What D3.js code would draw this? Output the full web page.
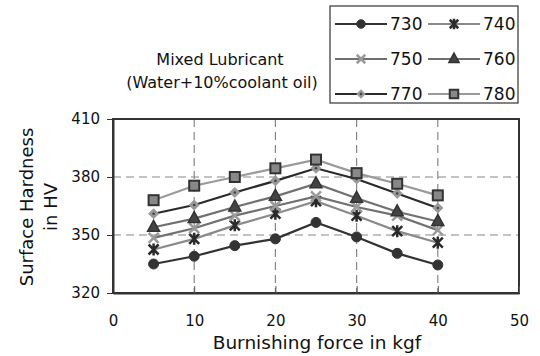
<!DOCTYPE html>
<html>
<head>
<meta charset="utf-8">
<script src="https://cdn.jsdelivr.net/npm/d3@7"></script>
<style>
  body { margin: 0; background: #fff; }
  text { font-family: "DejaVu Sans", Verdana, sans-serif; fill: #111; }
</style>
</head>
<body>
<div id="chart"></div>
<script>
const force = [5, 10, 15, 20, 25, 30, 35, 40]
const s730 = [335, 339, 344.5, 348, 356.5, 349, 340.5, 334.5]
const s740 = [342.5, 348, 355, 361, 367.5, 360, 352, 346]
const s750 = [348.5, 353.5, 360, 365, 370, 364.5, 360, 352.5]
const s760 = [354, 358.5, 364.5, 370, 376.5, 369, 362, 357]
const s770 = [361, 365.5, 372, 378, 384.5, 379, 371.5, 364]
const s780 = [368, 375.5, 380, 384.5, 389, 382, 376.5, 370.5]
const xTicks = [0, 10, 20, 30, 40, 50]
const yTicks = [320, 350, 380, 410]

const series = [
  {name: '730', values: s730, line: '#333', shape: 'circle', fill: '#333', stroke: '#333'},
  {name: '740', values: s740, line: '#8a8a8a', shape: 'star', fill: '#2a2a2a', stroke: '#2a2a2a'},
  {name: '750', values: s750, line: '#707070', shape: 'x', fill: 'none', stroke: '#9a9a9a'},
  {name: '760', values: s760, line: '#707070', shape: 'triangle', fill: '#444', stroke: '#333'},
  {name: '770', values: s770, line: '#2a2a2a', shape: 'diamond', fill: '#999', stroke: '#999'},
  {name: '780', values: s780, line: '#9a9a9a', shape: 'square', fill: '#888', stroke: '#333'}
]

const W = 540, H = 356
const svg = d3.select('#chart').append('svg')
  .attr('width', W).attr('height', H)

const x = d3.scaleLinear().domain([0, 50]).range([113, 519])
const y = d3.scaleLinear().domain([320, 410]).range([293, 119])

// grid
svg.append('g').selectAll('line.gx')
  .data(xTicks.slice(1, -1)).enter().append('line')
  .attr('x1', d => x(d)).attr('x2', d => x(d))
  .attr('y1', y(410)).attr('y2', y(320))
  .attr('stroke', '#888').attr('stroke-width', 1.2).attr('stroke-dasharray', '8,5')
svg.append('g').selectAll('line.gy')
  .data(yTicks.slice(1, -1)).enter().append('line')
  .attr('x1', x(0)).attr('x2', x(50))
  .attr('y1', d => y(d)).attr('y2', d => y(d))
  .attr('stroke', '#888').attr('stroke-width', 1.2).attr('stroke-dasharray', '8,5')

// frame
svg.append('rect')
  .attr('x', x(0)).attr('y', y(410))
  .attr('width', x(50) - x(0)).attr('height', y(320) - y(410))
  .attr('fill', 'none').attr('stroke', '#333').attr('stroke-width', 2)

// axes
const xAxis = svg.append('g')
  .attr('transform', `translate(0,${y(320)})`)
  .call(d3.axisBottom(x).tickValues(xTicks).tickSizeInner(-7).tickSizeOuter(0).tickPadding(22))
xAxis.select('.domain').attr('stroke', '#333').attr('stroke-width', 2)
xAxis.selectAll('.tick line').attr('stroke', '#555')
xAxis.selectAll('text').attr('font-size', 15).attr('fill', '#111')

const yAxis = svg.append('g')
  .attr('transform', `translate(${x(0)},0)`)
  .call(d3.axisLeft(y).tickValues(yTicks).tickSizeInner(6).tickSizeOuter(0).tickPadding(7))
yAxis.select('.domain').attr('stroke', '#333').attr('stroke-width', 2)
yAxis.selectAll('.tick line').attr('stroke', '#333')
yAxis.selectAll('text').attr('font-size', 15).attr('fill', '#111')

// axis titles
svg.append('text')
  .attr('x', 317).attr('y', 349)
  .attr('text-anchor', 'middle').attr('font-size', 18.5)
  .text('Burnishing force in kgf')
const yt = svg.append('text')
  .attr('transform', 'translate(0,207) rotate(-90)')
  .attr('text-anchor', 'middle').attr('font-size', 18)
yt.append('tspan').attr('x', 0).attr('y', 33).text('Surface Hardness')
yt.append('tspan').attr('x', 0).attr('y', 57).text('in HV')

// chart note
svg.append('text').attr('x', 220).attr('y', 65)
  .attr('text-anchor', 'middle').attr('font-size', 16)
  .text('Mixed Lubricant')
svg.append('text').attr('x', 222).attr('y', 88)
  .attr('text-anchor', 'middle').attr('font-size', 16)
  .text('(Water+10%coolant oil)')

function drawMarker(g, s, cx, cy, k) {
  k = k || 1
  if (s.shape === 'circle') {
    g.append('circle').attr('cx', cx).attr('cy', cy).attr('r', 5 * k)
      .attr('fill', s.fill).attr('stroke', s.stroke)
  } else if (s.shape === 'square') {
    g.append('rect').attr('x', cx - 5 * k).attr('y', cy - 5 * k).attr('width', 10 * k).attr('height', 10 * k)
      .attr('fill', s.fill).attr('stroke', s.stroke).attr('stroke-width', 2)
  } else if (s.shape === 'triangle') {
    g.append('path').attr('d', `M${cx},${cy - 7 * k}L${cx + 6 * k},${cy + 4 * k}L${cx - 6 * k},${cy + 4 * k}Z`)
      .attr('fill', s.fill).attr('stroke', s.stroke).attr('stroke-width', 1.5)
  } else if (s.shape === 'diamond') {
    g.append('path').attr('d', `M${cx},${cy - 5 * k}L${cx + 5 * k},${cy}L${cx},${cy + 5 * k}L${cx - 5 * k},${cy}Z`)
      .attr('fill', s.fill).attr('stroke', s.stroke)
    g.append('circle').attr('cx', cx).attr('cy', cy).attr('r', 1.3).attr('fill', '#444')
  } else if (s.shape === 'x') {
    const r = 5 * k
    g.append('path').attr('d', `M${cx - r},${cy - r}L${cx + r},${cy + r}M${cx - r},${cy + r}L${cx + r},${cy - r}`)
      .attr('stroke', s.stroke).attr('stroke-width', 2.5).attr('fill', 'none')
  } else if (s.shape === 'star') {
    const r = 5 * k
    g.append('path').attr('d', `M${cx - r},${cy - r}L${cx + r},${cy + r}M${cx - r},${cy + r}L${cx + r},${cy - r}M${cx},${cy - r - 1}L${cx},${cy + r + 1}`)
      .attr('stroke', s.stroke).attr('stroke-width', 2.5).attr('fill', 'none')
  }
}

const line = d3.line().x((d, i) => x(force[i])).y(d => y(d))

series.forEach(s => {
  const g = svg.append('g')
  g.append('path').datum(s.values)
    .attr('d', line).attr('fill', 'none')
    .attr('stroke', s.line).attr('stroke-width', 2.2)
  s.values.forEach((v, i) => drawMarker(g, s, x(force[i]), y(v)))
})

// legend
const lg = svg.append('g')
lg.append('rect').attr('x', 330).attr('y', 6).attr('width', 188).attr('height', 97)
  .attr('fill', '#fff').attr('stroke', '#333').attr('stroke-width', 1.2)
series.forEach((s, i) => {
  const col = i % 2, row = Math.floor(i / 2)
  const x0 = 335 + col * 93, yy = 24 + row * 35
  lg.append('line').attr('x1', x0).attr('x2', x0 + 52).attr('y1', yy).attr('y2', yy)
    .attr('stroke', s.line).attr('stroke-width', 2.2)
  drawMarker(lg, s, x0 + 26, yy, 0.85)
  lg.append('text').attr('x', x0 + 55).attr('y', yy + 6)
    .attr('font-size', 17).text(s.name)
})
</script>
</body>
</html>
